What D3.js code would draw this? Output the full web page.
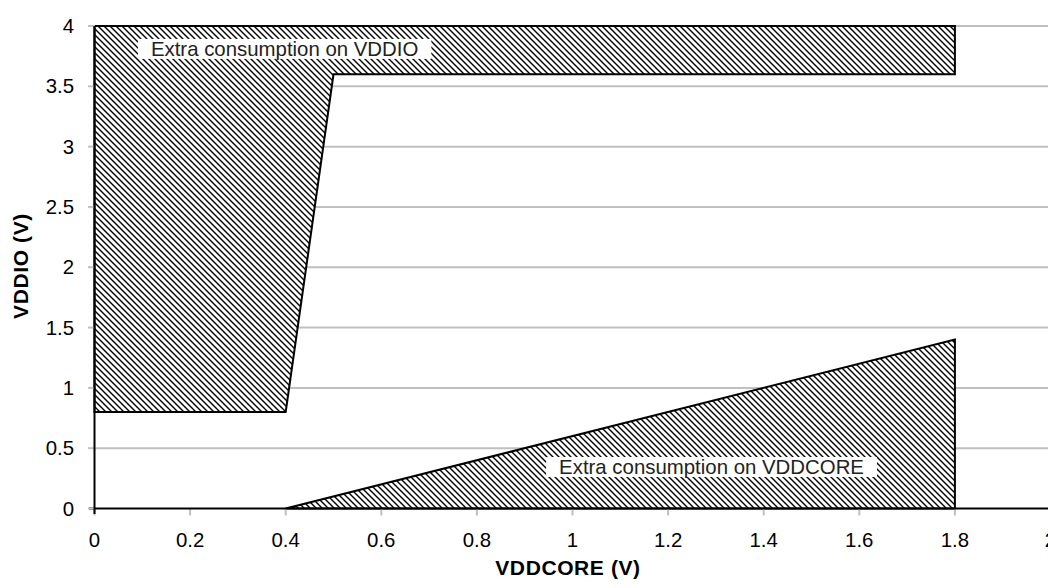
<!DOCTYPE html>
<html><head><meta charset="utf-8">
<script src="https://cdn.jsdelivr.net/npm/d3@7"></script>
<style>body{margin:0;background:#fff}svg{display:block}</style>
</head><body>
<svg id="c" width="1048" height="588"></svg>
<script>
const xTicks = [0, 0.2, 0.4, 0.6, 0.8, 1, 1.2, 1.4, 1.6, 1.8, 2];
const yTicks = [0, 0.5, 1, 1.5, 2, 2.5, 3, 3.5, 4];
const vddioRegion = [[0,4],[1.8,4],[1.8,3.6],[0.5,3.6],[0.4,0.8],[0,0.8]];
const vddcoreRegion = [[0.4,0],[1.8,1.4],[1.8,0]];
const labels = [
  {text:"Extra consumption on VDDIO", x:0.118, y:3.81},
  {text:"Extra consumption on VDDCORE", x:0.972, y:0.344}
];

const svg = d3.select("#c");
const x = d3.scaleLinear().domain([0,2]).range([94.5,1050.5]);
const y = d3.scaleLinear().domain([0,4]).range([508.5,26]);
const font = "Arial, 'Liberation Sans', sans-serif";

const defs = svg.append("defs");
const pat = defs.append("pattern").attr("id","hatch").attr("patternUnits","userSpaceOnUse")
  .attr("width",6).attr("height",6);
pat.append("rect").attr("width",6).attr("height",6).attr("fill","#fff");
pat.append("path").attr("d","M-1,-1 L7,7 M-1,5 L1,7 M5,-1 L7,1")
  .attr("stroke","#000").attr("stroke-width",1.4);

// gridlines
svg.append("g").selectAll("line").data(yTicks.filter(d=>d>0)).join("line")
  .attr("x1",95).attr("x2",1048).attr("y1",d=>y(d)).attr("y2",d=>y(d))
  .attr("stroke","#c0c0c0").attr("stroke-width",2);

// regions
const line = d3.line().x(d=>x(d[0])).y(d=>y(d[1]));
[vddioRegion, vddcoreRegion].forEach(r=>{
  svg.append("path").attr("d", line(r)+"Z").attr("fill","url(#hatch)")
    .attr("stroke","#000").attr("stroke-width",2);
});

// labels with white boxes
labels.forEach(l=>{
  const t = svg.append("text").attr("x",x(l.x)).attr("y",y(l.y)).attr("font-family",font)
    .attr("font-size",20.4).attr("fill","#222").attr("dominant-baseline","central").text(l.text);
  const b = t.node().getBBox();
  svg.insert("rect", () => t.node()).attr("x",b.x-13).attr("y",y(l.y)-10).attr("width",b.width+26)
    .attr("height",20).attr("fill","#fff");
});

// axes
const xa = svg.append("g").attr("transform","translate(0,508.5)");
xa.selectAll("line.t").data(xTicks).join("line").attr("class","t")
  .attr("x1",d=>x(d)).attr("x2",d=>x(d)).attr("y1",0).attr("y2",7)
  .attr("stroke","#c0c0c0").attr("stroke-width",2);
xa.append("line").attr("x1",89).attr("x2",1048).attr("y1",0).attr("y2",0)
  .attr("stroke","#000").attr("stroke-width",2);
xa.selectAll("text").data(xTicks).join("text").attr("x",d=>x(d)).attr("y",38.5)
  .attr("text-anchor","middle").attr("font-family",font).attr("font-size",20.4).attr("fill","#000")
  .text(d=>d3.format("")(d));

const ya = svg.append("g");
ya.selectAll("line.t").data(yTicks).join("line").attr("class","t")
  .attr("x1",88).attr("x2",95).attr("y1",d=>y(d)).attr("y2",d=>y(d))
  .attr("stroke","#c0c0c0").attr("stroke-width",2);
ya.append("line").attr("x1",94.5).attr("x2",94.5).attr("y1",y(4)).attr("y2",514)
  .attr("stroke","#000").attr("stroke-width",2);
ya.selectAll("text").data(yTicks).join("text").attr("x",74).attr("y",d=>y(d)+7)
  .attr("text-anchor","end").attr("font-family",font)
  .attr("font-size",20.4).attr("fill","#000").text(d=>d3.format("")(d));

svg.append("text").attr("x",568).attr("y",575).attr("text-anchor","middle")
  .attr("font-family",font).attr("font-size",21).attr("font-weight","bold")
  .attr("letter-spacing",0.6).text("VDDCORE (V)");
svg.append("text").attr("transform","translate(28,266) rotate(-90)").attr("text-anchor","middle")
  .attr("font-family",font).attr("font-size",21).attr("font-weight","bold")
  .attr("letter-spacing",0.6).text("VDDIO (V)");
</script>
</body></html>
